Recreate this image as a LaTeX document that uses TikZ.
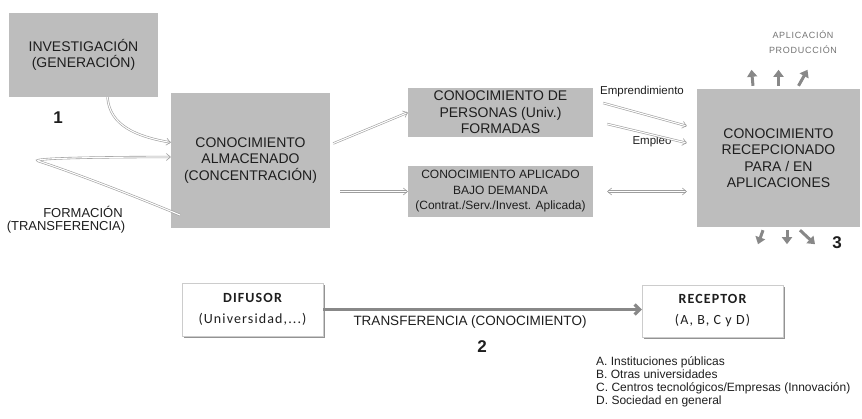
\documentclass[tikz,border=0pt]{standalone}
\usepackage{fontspec}
\setmainfont{Liberation Sans}
\newfontfamily\calibrisp{Carlito}[LetterSpace=8]
\usetikzlibrary{arrows.meta,positioning,calc,shadows}
\definecolor{boxcol}{HTML}{BDBDBD}
\definecolor{txtcol}{HTML}{1E1E1E}
\definecolor{arrcol}{HTML}{9E9E9E}
\definecolor{tickcol}{HTML}{888888}
\definecolor{edgecol}{HTML}{CCCCCC}

\begin{document}
\begin{tikzpicture}[x=1pt,y=-1pt,
  gbox/.style={fill=boxcol,text=txtcol,align=center,inner sep=0pt,
               font=\fontsize{14}{16.5}\selectfont},
  wbox/.style={draw=edgecol,fill=white,text=txtcol,align=center,inner sep=0pt,
               font=\calibrisp\fontsize{14}{21}\selectfont,
               drop shadow={shadow xshift=1.6pt,shadow yshift=-1.6pt,
                            fill=gray!85,opacity=1}},
  hollow/.style={draw=arrcol,double=white,double distance=1.1pt,line width=0.6pt,
                 -{Straight Barb[length=4pt,width=7pt]}},
  tick/.style={draw=tickcol,line width=3pt,-{Triangle[length=7pt,width=10pt]}},
  lbl/.style={text=txtcol,inner sep=0pt,align=center},
  num/.style={font=\bfseries\fontsize{17}{17}\selectfont,text=txtcol,inner sep=0pt},
]
\useasboundingbox (0,0) rectangle (862,419);

% upper chain
\node[gbox,minimum width=149pt,minimum height=84pt] (inv) at (83.5,55)
  {INVESTIGACIÓN\\(GENERACIÓN)};
\node[gbox,minimum width=159pt,minimum height=135pt] (alm) at (250.5,160.5)
  {CONOCIMIENTO\\ALMACENADO\\(CONCENTRACIÓN)};
\node[gbox,minimum width=185pt,minimum height=49pt] (per) at (500.5,112.5)
  {CONOCIMIENTO DE\\PERSONAS (Univ.)\\FORMADAS};
\node[gbox,minimum width=185pt,minimum height=51pt,
      font=\fontsize{12}{15.5}\selectfont] (apl) at (500.5,191.5)
  {CONOCIMIENTO APLICADO\\BAJO DEMANDA\\(Contrat./Serv./Invest. Aplicada)};
\node[gbox,minimum width=163pt,minimum height=138pt] (rec) at (778.5,158)
  {CONOCIMIENTO\\RECEPCIONADO\\PARA / EN\\APLICACIONES};

\node[num] (n1) at (58,118) {1};
\node[num] (n3) at (837,243) {3};
\node[lbl,font=\fontsize{13}{15}\selectfont] (form) at (83,212) {FORMACIÓN};
\node[lbl,font=\fontsize{13}{15}\selectfont] (trsf) at (66,227) {(TRANSFERENCIA)};
\node[lbl,font=\fontsize{11.5}{12}\selectfont] (empr) at (642,92) {Emprendimiento};
\node[lbl,font=\fontsize{11.5}{12}\selectfont] (empl) at (652,142) {Empleo};
\node[lbl,text=gray!90!black,font=\addfontfeatures{LetterSpace=8}\fontsize{9}{15}\selectfont]
  (prod) at (803,42) {APLICACIÓN\\PRODUCCIÓN};

\coordinate (fstart) at (180,215);
\coordinate (ftip) at (38,161);
\draw[hollow] ([xshift=24pt]inv.south) .. controls +(2,28) and +(-35,-6)
  .. ([yshift=18pt]alm.west);
\draw[hollow] (fstart) .. controls +(-60,-25) and +(25,8) .. (ftip)
  .. controls +(-8,-3) and +(-60,0) .. ([yshift=3.5pt]alm.west);
\draw[hollow] ([shift={(3pt,17pt)}]alm.east) -- (per.west);
\draw[hollow] ([xshift=10pt]alm.east |- apl.west) -- (apl.west);
\draw[hollow] ([shift={(10pt,9.5pt)}]per.east) -- ([shift={(-10pt,32pt)}]rec.west);
\draw[hollow] ([shift={(14pt,-11.5pt)}]per.east) -- ([shift={(-10pt,15pt)}]rec.west);
\draw[hollow,{Straight Barb[length=4pt,width=7pt]}-{Straight Barb[length=4pt,width=7pt]}]
  ([xshift=14pt]apl.east) -- ([xshift=-10pt]rec.west |- apl.east);

\foreach \dx/\ddx in {-25.5/-1.5,0/0,20/9}
  \draw[tick] ([xshift=\dx pt,yshift=3pt]rec.north) -- ++(\ddx,-16);
\foreach \dx/\ddx in {-15.5/-5,8.5/0,21.5/15}
  \draw[tick] ([xshift=\dx pt,yshift=-3pt]rec.south) -- ++(\ddx,14);

% lower chain
\node[wbox,minimum width=141pt,minimum height=53pt] (dif) at (252.5,309.5)
  {{\bfseries DIFUSOR}\\(Universidad,...)};
\node[wbox,minimum width=141pt,minimum height=52pt] (rcp) at (712.5,311)
  {{\bfseries RECEPTOR}\\(A, B, C y D)};
\draw[draw=tickcol,line width=3.2pt,-{Straight Barb[length=5pt,width=10pt]}]
  (dif.east) -- (dif.east -| rcp.west);
\node[lbl,font=\fontsize{13.5}{14}\selectfont] (trf) at (470,322)
  {TRANSFERENCIA (CONOCIMIENTO)};
\node[num] (n2) at (482,347) {2};
\node[lbl,align=left,anchor=north west,font=\fontsize{12}{13}\selectfont] (lst)
  at (596,356)
  {A. Instituciones públicas\\B. Otras universidades\\
   C. Centros tecnológicos/Empresas (Innovación)\\D. Sociedad en general};
\end{tikzpicture}
\end{document}
